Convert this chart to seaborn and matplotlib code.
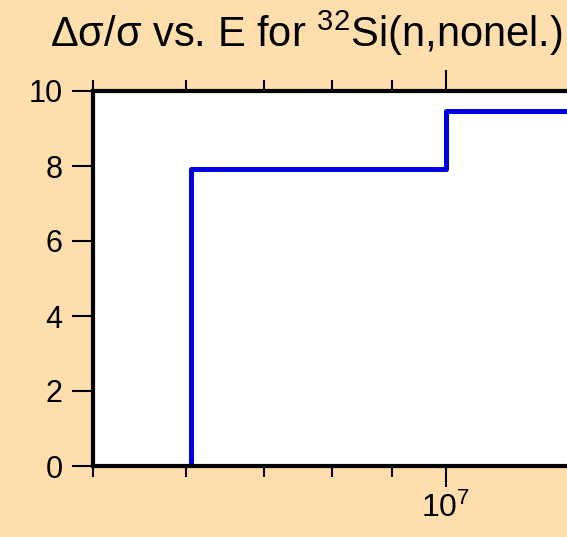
import numpy as np
import matplotlib
matplotlib.use("Agg")
import matplotlib.pyplot as plt
import matplotlib.ticker as mticker
import seaborn as sns

# group boundaries (eV) and relative uncertainty (%) per group
energy_edges = [6.06e6, 1.0e7, 2.0e7]
rel_unc = [7.93, 9.47]

title = "Δσ/σ vs. E for $^{32}$Si(n,nonel.)"

sns.set_style("ticks")
plt.rcParams["font.family"] = ["Liberation Sans", "DejaVu Sans"]
plt.rcParams["mathtext.default"] = "regular"
plt.rcParams["text.color"] = "black"

# step curve starting from zero at the first edge
xs = [energy_edges[0]] + list(energy_edges)
ys = [0.0] + list(rel_unc) + [rel_unc[-1]]

bg = "#FFDEAD"
fig = plt.figure(figsize=(5.67, 5.37), dpi=100, facecolor=bg)
ax = fig.add_axes([93 / 567, 1 - 466 / 537, (798 - 93) / 567, (466 - 91) / 537])
ax.set_facecolor("white")

sns.lineplot(x=xs, y=ys[:len(xs)], drawstyle="steps-post", estimator=None,
             sort=False, color="#0000E0", linewidth=3.6, ax=ax)

ax.set_xscale("log")
ax.set_xlim(5e6, 2e7)
ax.set_ylim(0, 10)
ax.set_yticks([0, 2, 4, 6, 8, 10])
ax.xaxis.set_major_locator(mticker.FixedLocator([1e7]))
ax.xaxis.set_major_formatter(mticker.FixedFormatter(["$10^{7}$"]))
ax.xaxis.set_minor_locator(mticker.FixedLocator([5e6, 6e6, 7e6, 8e6, 9e6, 2e7]))
ax.xaxis.set_minor_formatter(mticker.NullFormatter())

for s in ax.spines.values():
    s.set_linewidth(3)
    s.set_color("black")
ax.tick_params(which="both", direction="out", top=True, right=True, width=1.5,
               colors="black")
ax.tick_params(axis="x", which="major", length=15, labelsize=23, pad=4)
ax.tick_params(axis="x", which="minor", length=8)
ax.tick_params(axis="y", which="major", length=15, labelsize=22, pad=7)

fig.text(306 / 567, 1 - 47 / 537, title, ha="center", va="baseline",
         fontsize=30, color="black")

fig.savefig("out.png", dpi=100, facecolor=bg)
